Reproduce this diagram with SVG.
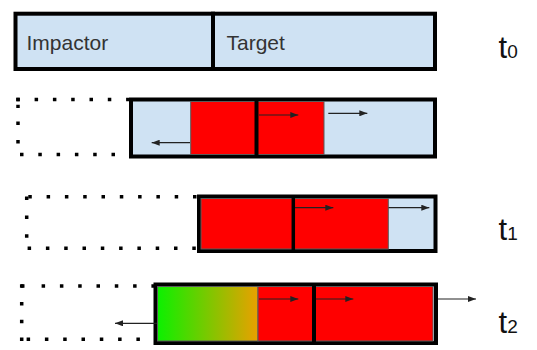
<svg xmlns="http://www.w3.org/2000/svg" width="537" height="350" viewBox="0 0 537 350">
<style>
.box{fill:#cfe2f3;stroke:#000;stroke-width:4}
.red{fill:#ff0000;stroke:#5a5a5a;stroke-width:1}
.div{stroke:#000;stroke-width:4}
.dot{stroke:#000;stroke-width:3.5;fill:none}
.arr{stroke:#222;stroke-width:1.2;fill:none;marker-end:url(#ah)}
.lbl{font-family:"Liberation Sans",Arial,sans-serif;font-size:21px;fill:#333}
.t{font-family:"Liberation Sans",Arial,sans-serif;font-size:31px;fill:#111}
.sub{font-size:19px}
</style>
<defs>
<marker id="ah" markerUnits="userSpaceOnUse" markerWidth="9" markerHeight="6" refX="8" refY="3" orient="auto">
<path d="M0,0 L8,3 L0,6 z" fill="#222"/>
</marker>
<linearGradient id="gr" x1="0" y1="0" x2="1" y2="0">
<stop offset="0" stop-color="#0cf000"/>
<stop offset="1" stop-color="#eaa000"/>
</linearGradient>
</defs>

<g id="row0">
<g id="impactor0"><rect class="box" x="15.5" y="13.7" width="197.5" height="55.3"/><text class="lbl" x="26.5" y="50">Impactor</text></g>
<g id="target0"><rect class="box" x="213" y="13.7" width="222" height="55.3"/><text class="lbl" x="226.5" y="50">Target</text></g>
<g id="label0"><text class="t" x="498.5" y="58">t<tspan class="sub">0</tspan></text></g>
</g>

<g id="row1">
<g id="ghost1">
<line class="dot" x1="16.3" y1="99.5" x2="129" y2="99.5" stroke-dasharray="3.5 14.8"/>
<line class="dot" x1="18" y1="97.7" x2="18" y2="108" stroke-dasharray="3.5 3.5"/>
<line class="dot" x1="18" y1="121.6" x2="18" y2="145" stroke-dasharray="3.5 14.9"/>
<line class="dot" x1="20" y1="154.5" x2="120" y2="154.5" stroke-dasharray="3.5 14.8"/>
</g>
<g id="target1">
<rect class="box" x="131" y="99.5" width="304" height="57"/>
<rect class="red" x="190.7" y="101.5" width="65.8" height="53"/>
<rect class="red" x="256.5" y="101.5" width="67.5" height="53"/>
<line class="div" x1="256.5" y1="99.5" x2="256.5" y2="158"/>
</g>
</g>

<g id="row2">
<g id="ghost2">
<line class="dot" x1="28.3" y1="196.7" x2="197" y2="196.7" stroke-dasharray="3.5 14.8"/>
<line class="dot" x1="26.7" y1="196.5" x2="26.7" y2="200" stroke-dasharray="3.5 20"/>
<line class="dot" x1="26.7" y1="215.6" x2="26.7" y2="238" stroke-dasharray="3.5 15.2"/>
<line class="dot" x1="27.6" y1="248.3" x2="197" y2="248.3" stroke-dasharray="3.5 14.8"/>
</g>
<g id="target2">
<rect class="box" x="199" y="196.5" width="236.5" height="54.5"/>
<rect class="red" x="201" y="198.5" width="92.3" height="50.5"/>
<rect class="red" x="293.3" y="198.5" width="95" height="50.5"/>
<line class="div" x1="293.3" y1="196.5" x2="293.3" y2="251" style="stroke-width:3.5"/>
</g>
<g id="label1"><text class="t" x="498.5" y="240">t<tspan class="sub">1</tspan></text></g>
</g>

<g id="row3">
<g id="ghost3">
<line class="dot" x1="21" y1="286" x2="24.5" y2="286"/>
<line class="dot" x1="41.6" y1="286" x2="156" y2="286" stroke-dasharray="3.5 14.8"/>
<line class="dot" x1="21.7" y1="284.3" x2="21.7" y2="341" stroke-dasharray="3.5 14.2"/>
<line class="dot" x1="26.6" y1="339.3" x2="141" y2="339.3" stroke-dasharray="3.5 14.8"/>
</g>
<g id="target3">
<rect class="box" x="155.5" y="284.5" width="280.5" height="58.5"/>
<rect x="157.5" y="286.5" width="100.5" height="54.5" fill="url(#gr)" stroke="#5a5a5a" stroke-width="1"/>
<rect class="red" x="258" y="286.5" width="56" height="54.5"/>
<rect class="red" x="314" y="286.5" width="119" height="54.5"/>
<line class="div" x1="314" y1="284.5" x2="314" y2="343"/>
</g>
<g id="label2"><text class="t" x="498.5" y="333">t<tspan class="sub">2</tspan></text></g>
</g>

<g id="connectors">
<line class="arr" x1="190" y1="142.7" x2="151.7" y2="142.7"/>
<line class="arr" x1="259" y1="115" x2="298.3" y2="115"/>
<line class="arr" x1="328.3" y1="113.3" x2="367.3" y2="113.3"/>
<line class="arr" x1="295" y1="207.7" x2="333.3" y2="207.7"/>
<line class="arr" x1="388.5" y1="207.7" x2="429.3" y2="207.7"/>
<line class="arr" x1="157" y1="323.3" x2="115" y2="323.3"/>
<line class="arr" x1="259" y1="299" x2="298.3" y2="299"/>
<line class="arr" x1="316" y1="299" x2="353.3" y2="299"/>
<line class="arr" x1="438" y1="299" x2="476" y2="299"/>
</g>
</svg>
